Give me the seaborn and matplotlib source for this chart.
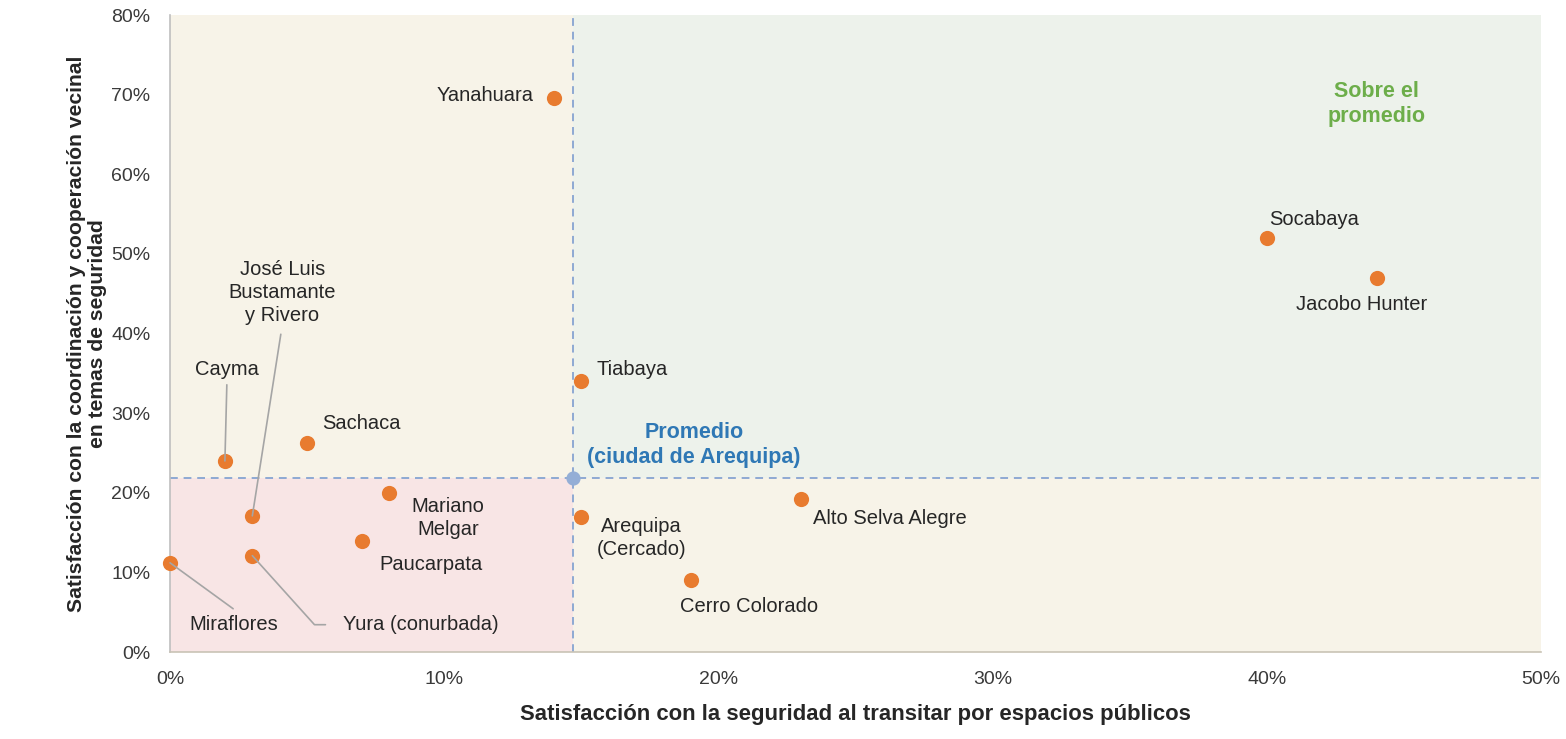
import matplotlib.pyplot as plt
import pandas as pd
import seaborn as sns
from matplotlib.patches import Rectangle
from matplotlib.ticker import FuncFormatter

sns.set_theme(style="white")
plt.rcParams["font.family"] = ["Liberation Sans", "DejaVu Sans"]

# valores (porcentajes)
distritos = [
    "Yanahuara", "Socabaya", "Jacobo Hunter", "Tiabaya", "Cayma", "Sachaca",
    "Mariano\nMelgar", "José Luis\nBustamante\ny Rivero", "Paucarpata",
    "Yura (conurbada)", "Miraflores", "Arequipa\n(Cercado)",
    "Alto Selva Alegre", "Cerro Colorado",
]
seguridad_espacios = [14.0, 40.0, 44.0, 15.0, 2.0, 5.0, 8.0, 3.0, 7.0, 3.0, 0.0, 15.0, 23.0, 19.0]
coordinacion_vecinal = [69.6, 52.0, 47.0, 34.0, 24.0, 26.3, 20.0, 17.1, 14.0, 12.1, 11.2, 17.0, 19.2, 9.1]

promedio_x = 14.7
promedio_y = 21.8

x_ticks = [0, 10, 20, 30, 40, 50]
y_ticks = [0, 10, 20, 30, 40, 50, 60, 70, 80]

# posición de cada etiqueta: desplazamiento en puntos, alineación, línea guía
etiquetas = {
    "Yanahuara": ((-15, 2), "right", None),
    "Socabaya": ((1.5, 13), "left", None),
    "Jacobo Hunter": ((-11, -19.5), "center", None),
    "Tiabaya": ((11, 8.5), "left", None),
    "Cayma": ((1.5, 66), "center", dict(relpos=(0.5, 0), shrinkA=2)),
    "Sachaca": ((11, 13.5), "left", None),
    "Mariano\nMelgar": ((42, -18), "center", None),
    "José Luis\nBustamante\ny Rivero": ((21.5, 160.5), "center", dict(relpos=(0.5, 0), shrinkA=4)),
    "Paucarpata": ((50, -17.3), "center", None),
    "Yura (conurbada)": ((65, -49.7), "left",
                         dict(relpos=(0, 0.5), shrinkA=10,
                              connectionstyle="angle,angleA=0,angleB=132,rad=0")),
    "Miraflores": ((45.5, -44.6), "center", dict(relpos=(0.6, 1), shrinkA=4)),
    "Arequipa\n(Cercado)": ((43, -15.5), "center", None),
    "Alto Selva Alegre": ((8.6, -13.7), "left", None),
    "Cerro Colorado": ((42, -19.4), "center", None),
}

df = pd.DataFrame({"distrito": distritos, "x": seguridad_espacios, "y": coordinacion_vecinal})

fig = plt.figure(figsize=(15.66, 7.39), dpi=100)
ax = fig.add_axes([0.1086, 0.1177, 0.8755, 0.8620])
ax.set_xlim(x_ticks[0], x_ticks[-1])
ax.set_ylim(y_ticks[0], y_ticks[-1])

beige, verde, rosa = "#F7F3E8", "#EDF2EB", "#F8E5E5"
xmax, ymax = x_ticks[-1], y_ticks[-1]
ax.add_patch(Rectangle((0, promedio_y), promedio_x, ymax - promedio_y, color=beige, lw=0, zorder=0))
ax.add_patch(Rectangle((promedio_x, promedio_y), xmax - promedio_x, ymax - promedio_y, color=verde, lw=0, zorder=0))
ax.add_patch(Rectangle((0, 0), promedio_x, promedio_y, color=rosa, lw=0, zorder=0))
ax.add_patch(Rectangle((promedio_x, 0), xmax - promedio_x, promedio_y, color=beige, lw=0, zorder=0))

linea = dict(color="#8EA9D3", lw=1.4, ls=(0, (4, 3)), zorder=1)
ax.axvline(promedio_x, **linea)
ax.axhline(promedio_y, **linea)
ax.scatter([promedio_x], [promedio_y], s=85, color="#94AED6", zorder=2, clip_on=False)

sns.scatterplot(data=df, x="x", y="y", color="#E87B2F", s=120, linewidth=0, ax=ax, zorder=3)
ax.collections[-1].set_clip_on(False)

for _, fila in df.iterrows():
    offset, ha, guia = etiquetas[fila["distrito"]]
    arrow = None
    if guia is not None:
        arrow = dict(arrowstyle="-", color="#A5A5A5", lw=1.2, shrinkB=0)
        arrow.update(guia)
    ax.annotate(fila["distrito"], (fila["x"], fila["y"]), xytext=offset,
                textcoords="offset points", ha=ha, va="center", ma="center",
                fontsize=14.5, color="#262626", linespacing=1.27,
                arrowprops=arrow, zorder=4)

ax.annotate("Promedio\n(ciudad de Arequipa)", (promedio_x, promedio_y), xytext=(87, 24),
            textcoords="offset points", ha="center", va="center", ma="center",
            fontsize=15.5, fontweight="bold", color="#2F78B5", linespacing=1.22)
ax.text(0.88, 0.86, "Sobre el\npromedio", transform=ax.transAxes, ha="center", va="center",
        fontsize=15.5, fontweight="bold", color="#6DAE4A", linespacing=1.22)

ax.set_xticks(x_ticks)
ax.set_yticks(y_ticks)
fmt = FuncFormatter(lambda v, _: f"{v:.0f}%")
ax.xaxis.set_major_formatter(fmt)
ax.yaxis.set_major_formatter(fmt)
ax.tick_params(axis="both", length=0, labelsize=14, labelcolor="#3A3A3A")
ax.tick_params(axis="x", pad=14)
ax.tick_params(axis="y", pad=14)

for lado in ["top", "right"]:
    ax.spines[lado].set_visible(False)
ax.spines["left"].set_color("#BFBFBF")
ax.spines["bottom"].set_color("#C9C3B5")
ax.spines["left"].set_linewidth(1.2)
ax.spines["bottom"].set_linewidth(1.2)

ax.set_xlabel("Satisfacción con la seguridad al transitar por espacios públicos",
              fontsize=15.9, fontweight="bold", color="#262626", labelpad=11)
ax.set_ylabel("Satisfacción con la coordinación y cooperación vecinal\nen temas de seguridad",
              fontsize=15.2, fontweight="bold", color="#262626", labelpad=3, linespacing=1.15)

fig.savefig("out.png", dpi=100)
